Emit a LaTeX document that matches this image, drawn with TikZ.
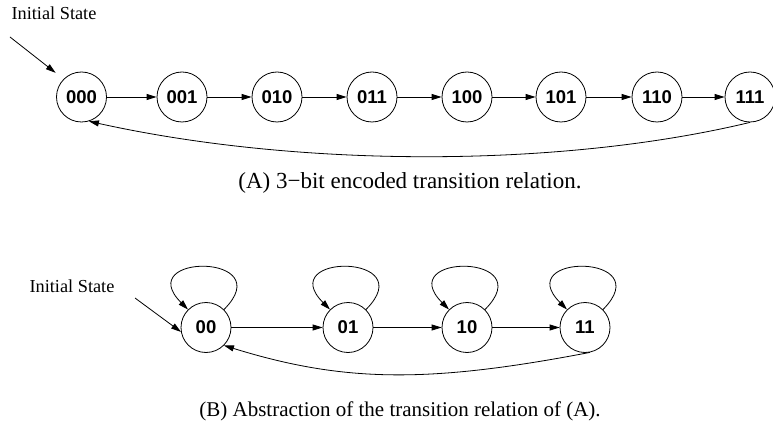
\documentclass[tikz,border=0pt]{standalone}
\usepackage{fontspec}
\setmainfont{Liberation Serif}
\newfontfamily\nodefont{Liberation Sans}
\usetikzlibrary{arrows.meta}
\begin{document}
\begin{tikzpicture}[x=1pt,y=1pt,
  state/.style={circle,draw,line width=0.8pt,minimum size=50pt,inner sep=0pt,
    font=\nodefont\fontsize{18.5}{18.5}\selectfont\bfseries},
  edge/.style={line width=0.8pt,-{Triangle[length=10pt,width=6pt]}},
  lbl/.style={font=\fontsize{18.3}{20}\selectfont,inner sep=0pt},
  captext/.style={inner sep=0pt}]
\useasboundingbox (0,0) rectangle (773,426);
% top row
\node[state] (a0) at (81.5,329) {000};
\node[state] (a1) at (182,329) {001};
\node[state] (a2) at (277,329) {010};
\node[state] (a3) at (372,329) {011};
\node[state] (a4) at (467,329) {100};
\node[state] (a5) at (561,329) {101};
\node[state] (a6) at (657,329) {110};
\node[state] (a7) at (750,329) {111};
\draw[edge] (a0) -- (a1);
\draw[edge] (a1) -- (a2);
\draw[edge] (a2) -- (a3);
\draw[edge] (a3) -- (a4);
\draw[edge] (a4) -- (a5);
\draw[edge] (a5) -- (a6);
\draw[edge] (a6) -- (a7);
\draw[edge] (a7.south) .. controls (560,258) and (300,258) .. (a0.-73);
\node[lbl] (initA) at (54,413) {Initial State};
\coordinate (ia) at (10,389);
\draw[edge,shorten >=10pt] (ia) -- (a0.135);
\node[captext,font=\fontsize{23}{24}\selectfont] (capA) at (410,243)
  {(A) 3\textminus bit encoded transition relation.};
% bottom row
\node[state] (b0) at (206,98.5) {00};
\node[state] (b1) at (348,98.5) {01};
\node[state] (b2) at (467,98.5) {10};
\node[state] (b3) at (585,98.5) {11};
\draw[edge] (b0) -- (b1);
\draw[edge] (b1) -- (b2);
\draw[edge] (b2) -- (b3);
\foreach \n in {b0,b1,b2,b3}
  \draw[edge] (\n.45) .. controls +(45:80) and +(135:80) .. (\n.135);
\draw[edge] (b3.-79) .. controls (430,43) and (345,43) .. (b0.-45);
\node[lbl] (initB) at (72,140) {Initial State};
\coordinate (ib) at (135,128);
\draw[edge] (ib) -- (b0.190);
\node[captext,font=\fontsize{21}{22}\selectfont] (capB) at (400,15)
  {(B) Abstraction of the transition relation of (A).};
\end{tikzpicture}
\end{document}
